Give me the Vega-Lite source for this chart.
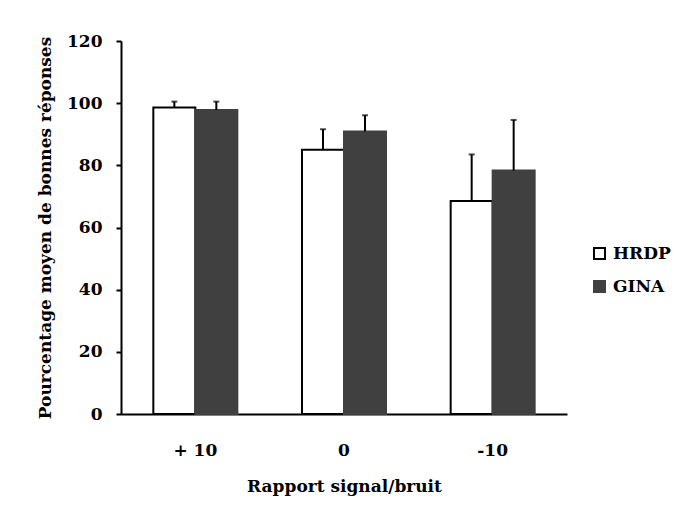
{
  "$schema": "https://vega.github.io/schema/vega-lite/v6.json",
  "width": 446,
  "height": 373,
  "autosize": {"type": "none"},
  "padding": {"left": 121, "top": 41, "right": 109, "bottom": 94},
  "background": "white",
  "config": {
    "view": {"stroke": null},
    "font": "DejaVu Serif",
    "axis": {"labelFont": "DejaVu Serif", "titleFont": "DejaVu Serif", "labelFontWeight": "bold", "titleFontWeight": "bold", "labelColor": "black", "titleColor": "black", "domainColor": "black", "tickColor": "black", "grid": false}
  },
  "data": {
    "values": [
      {"snr": "+ 10", "groupe": "HRDP", "moyenne": 98.6, "haut": 100.5},
      {"snr": "+ 10", "groupe": "GINA", "moyenne": 97.8, "haut": 100.5},
      {"snr": "0", "groupe": "HRDP", "moyenne": 85.0, "haut": 91.6},
      {"snr": "0", "groupe": "GINA", "moyenne": 90.9, "haut": 96.1},
      {"snr": "-10", "groupe": "HRDP", "moyenne": 68.5, "haut": 83.5},
      {"snr": "-10", "groupe": "GINA", "moyenne": 78.3, "haut": 94.6}
    ]
  },
  "encoding": {
    "x": {
      "field": "snr", "type": "nominal", "sort": ["+ 10", "0", "-10"],
      "scale": {"paddingInner": 0.435, "paddingOuter": 0.2175},
      "axis": {"title": "Rapport signal/bruit", "labelAngle": 0, "ticks": false, "tickSize": 0, "labelPadding": 28, "labelFontSize": 17, "titleFontSize": 17, "titlePadding": 20, "domainWidth": 2}
    },
    "xOffset": {"field": "groupe", "type": "nominal", "sort": ["HRDP", "GINA"], "scale": {"paddingInner": 0, "paddingOuter": 0}}
  },
  "layer": [
    {
      "mark": {"type": "bar", "strokeWidth": 2},
      "encoding": {
        "y": {
          "field": "moyenne", "type": "quantitative",
          "scale": {"domain": [0, 120], "nice": false},
          "axis": {"title": "Pourcentage moyen de bonnes réponses", "values": [0, 20, 40, 60, 80, 100, 120], "tickSize": 5, "tickWidth": 2, "domainWidth": 2, "labelPadding": 14, "labelFontSize": 17, "titleFontSize": 17, "titlePadding": 12}
        },
        "fill": {
          "field": "groupe", "type": "nominal", "sort": ["HRDP", "GINA"],
          "scale": {"domain": ["HRDP", "GINA"], "range": ["#ffffff", "#404040"]},
          "legend": {"title": null, "orient": "none", "legendX": 470, "legendY": 204, "symbolType": "square", "symbolSize": 121, "symbolStrokeWidth": 2, "labelFont": "DejaVu Serif", "labelFontWeight": "bold", "labelFontSize": 17, "labelColor": "black", "labelOffset": 5, "rowPadding": 14}
        },
        "stroke": {
          "field": "groupe", "type": "nominal", "sort": ["HRDP", "GINA"],
          "scale": {"domain": ["HRDP", "GINA"], "range": ["#000000", "#404040"]},
          "legend": {"title": null, "orient": "none", "legendX": 470, "legendY": 204, "symbolType": "square", "symbolSize": 121, "symbolStrokeWidth": 2, "labelFont": "DejaVu Serif", "labelFontWeight": "bold", "labelFontSize": 17, "labelColor": "black", "labelOffset": 5, "rowPadding": 14}
        }
      }
    },
    {
      "mark": {"type": "rule", "color": "black", "strokeWidth": 2},
      "encoding": {
        "y": {"field": "moyenne", "type": "quantitative"},
        "y2": {"field": "haut"}
      }
    },
    {
      "mark": {"type": "tick", "color": "black", "size": 6, "thickness": 2, "orient": "horizontal"},
      "encoding": {
        "y": {"field": "haut", "type": "quantitative"}
      }
    }
  ]
}
